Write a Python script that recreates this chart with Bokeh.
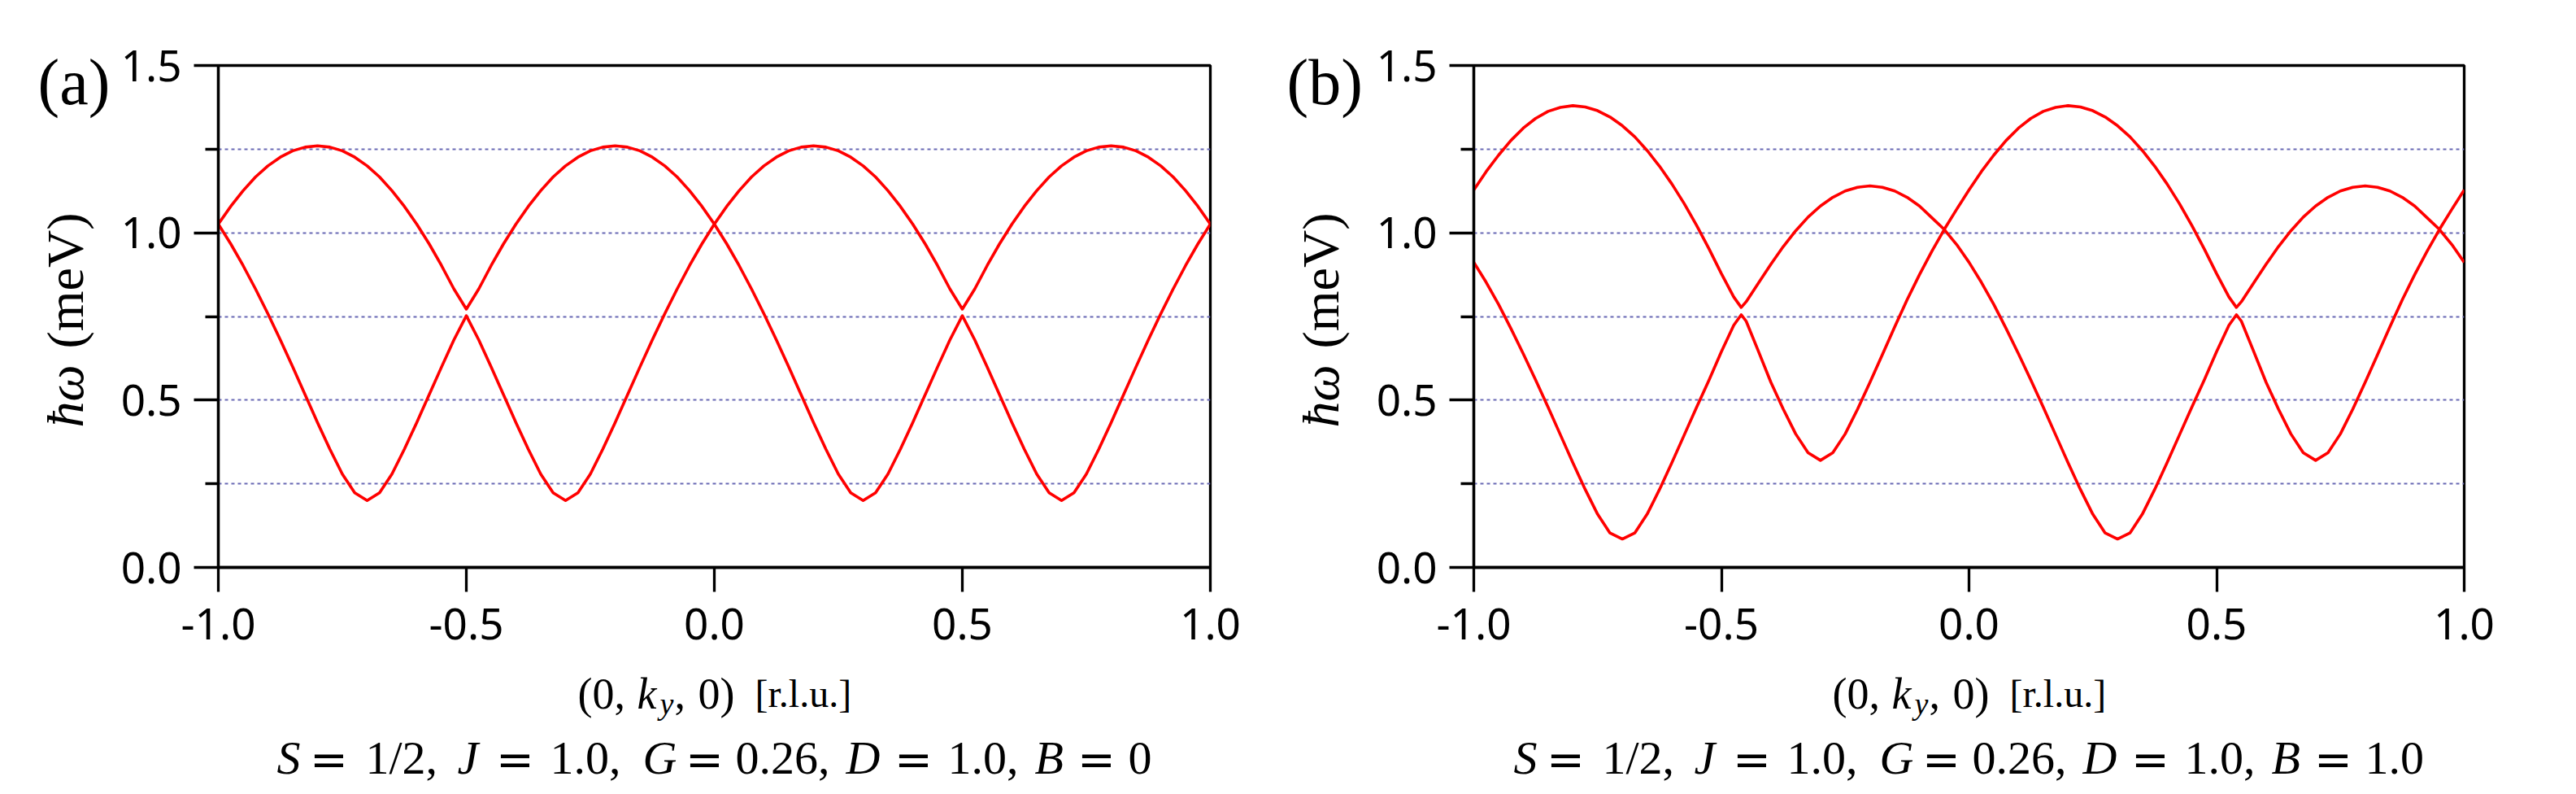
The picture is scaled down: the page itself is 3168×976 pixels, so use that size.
import math
from bokeh.plotting import figure
from bokeh.models import Range1d, FixedTicker, PrintfTickFormatter, Label
from bokeh.layouts import row, column
from bokeh.embed import file_html
from bokeh.resources import INLINE

# ---------------- data ----------------
ka = [-1.000,-0.975,-0.950,-0.925,-0.900,-0.875,-0.850,-0.825,-0.800,-0.775,-0.750,-0.725,-0.700,-0.675,-0.650,-0.625,-0.600,-0.575,-0.550,-0.525,
      -0.500,-0.475,-0.450,-0.425,-0.400,-0.375,-0.350,-0.325,-0.300,-0.275,-0.250,-0.225,-0.200,-0.175,-0.150,-0.125,-0.100,-0.075,-0.050,-0.025,
      0.000,0.025,0.050,0.075,0.100,0.125,0.150,0.175,0.200,0.225,0.250,0.275,0.300,0.325,0.350,0.375,0.400,0.425,0.450,0.475,
      0.500,0.525,0.550,0.575,0.600,0.625,0.650,0.675,0.700,0.725,0.750,0.775,0.800,0.825,0.850,0.875,0.900,0.925,0.950,0.975,1.000]
upper_a = [1.026,1.079,1.126,1.167,1.200,1.226,1.245,1.256,1.260,1.256,1.245,1.226,1.200,1.167,1.126,1.079,1.026,0.967,0.902,0.832,
           0.772,0.832,0.902,0.967,1.026,1.079,1.126,1.167,1.200,1.226,1.245,1.256,1.260,1.256,1.245,1.226,1.200,1.167,1.126,1.079,
           1.026,1.079,1.126,1.167,1.200,1.226,1.245,1.256,1.260,1.256,1.245,1.226,1.200,1.167,1.126,1.079,1.026,0.967,0.902,0.832,
           0.772,0.832,0.902,0.967,1.026,1.079,1.126,1.167,1.200,1.226,1.245,1.256,1.260,1.256,1.245,1.226,1.200,1.167,1.126,1.079,1.026]
lower_a = [1.026,0.967,0.902,0.832,0.758,0.680,0.599,0.516,0.433,0.353,0.279,0.223,0.200,0.223,0.279,0.353,0.433,0.516,0.599,0.680,
           0.752,0.680,0.599,0.516,0.433,0.353,0.279,0.223,0.200,0.223,0.279,0.353,0.433,0.516,0.599,0.680,0.758,0.832,0.902,0.967,
           1.026,0.967,0.902,0.832,0.758,0.680,0.599,0.516,0.433,0.353,0.279,0.223,0.200,0.223,0.279,0.353,0.433,0.516,0.599,0.680,
           0.752,0.680,0.599,0.516,0.433,0.353,0.279,0.223,0.200,0.223,0.279,0.353,0.433,0.516,0.599,0.680,0.758,0.832,0.902,0.967,1.026]

kb = [-1.000,-0.975,-0.950,-0.925,-0.900,-0.875,-0.850,-0.825,-0.800,-0.775,-0.750,-0.725,-0.700,-0.675,-0.650,-0.625,-0.600,-0.575,-0.550,-0.525,
      -0.500,-0.475,-0.460,-0.450,-0.425,-0.400,-0.375,-0.350,-0.325,-0.300,-0.275,-0.250,-0.225,-0.200,-0.175,-0.150,-0.125,-0.100,-0.075,-0.050,-0.025,
      0.000,0.025,0.050,0.075,0.100,0.125,0.150,0.175,0.200,0.225,0.250,0.275,0.300,0.325,0.350,0.375,0.400,0.425,0.450,0.475,
      0.500,0.525,0.540,0.550,0.575,0.600,0.625,0.650,0.675,0.700,0.725,0.750,0.775,0.800,0.825,0.850,0.875,0.900,0.925,0.950,0.975,1.000]
upper_b = [1.128,1.183,1.232,1.276,1.313,1.342,1.363,1.375,1.380,1.376,1.365,1.346,1.320,1.287,1.246,1.199,1.146,1.087,1.022,0.952,
           0.878,0.808,0.777,0.794,0.850,0.906,0.959,1.006,1.047,1.080,1.106,1.125,1.136,1.140,1.136,1.125,1.106,1.080,1.045,1.010,1.070,
           1.128,1.183,1.232,1.276,1.313,1.342,1.363,1.375,1.380,1.376,1.365,1.346,1.320,1.287,1.246,1.199,1.146,1.087,1.022,0.952,
           0.878,0.808,0.777,0.794,0.850,0.906,0.959,1.006,1.047,1.080,1.106,1.125,1.136,1.140,1.136,1.125,1.106,1.080,1.045,1.010,1.070,1.128]
lower_b = [0.912,0.852,0.786,0.714,0.638,0.560,0.479,0.396,0.313,0.233,0.159,0.103,0.085,0.103,0.159,0.233,0.313,0.396,0.479,0.560,
           0.645,0.724,0.755,0.736,0.645,0.553,0.473,0.399,0.343,0.320,0.343,0.399,0.473,0.553,0.636,0.719,0.800,0.875,0.945,1.010,0.965,
           0.912,0.852,0.786,0.714,0.638,0.560,0.479,0.396,0.313,0.233,0.159,0.103,0.085,0.103,0.159,0.233,0.313,0.396,0.479,0.560,
           0.645,0.724,0.755,0.736,0.645,0.553,0.473,0.399,0.343,0.320,0.343,0.399,0.473,0.553,0.636,0.719,0.800,0.875,0.945,1.010,0.965,0.912]

x_ticks = [-1.0, -0.5, 0.0, 0.5, 1.0]
y_major = [0.0, 0.5, 1.0, 1.5]
y_minor = [0.25, 0.75, 1.25]
y_grid = [0.25, 0.5, 0.75, 1.0, 1.25]
panel_tags = ["(a)", "(b)"]
param_names = ["S", "J", "G", "D", "B"]
param_values_a = ["1/2,", "1.0,", "0.26,", "1.0,", "0"]
param_values_b = ["1/2,", "1.0,", "0.26,", "1.0,", "1.0"]
y_sym = "ħω"
y_unit = "(meV)"

# ---------------- layout constants (page pixels, origin top-left) ----------------
FT, FH = 80, 617          # frame top, frame height
SERIF = "Liberation Serif"
SANS = "Noto Sans"
RED = "#ff0000"
FIG_H = 968


def make_panel(k, up, lo, fw, bl, br):
    p = figure(frame_width=fw, frame_height=FH, x_range=Range1d(-1, 1), y_range=Range1d(0, 1.5),
               output_backend="svg", toolbar_location=None,
               min_border_left=bl, min_border_right=br, min_border_top=FT,
               min_border_bottom=FIG_H - FT - FH,
               background_fill_color="white", border_fill_color="white")
    p.outline_line_color = "black"
    p.outline_line_width = 3.3
    p.xgrid.visible = False
    p.ygrid.ticker = FixedTicker(ticks=y_grid)
    p.ygrid.grid_line_color = "#6868b4"
    p.ygrid.grid_line_dash = "4 4"
    p.ygrid.grid_line_width = 1.8

    xa = p.xaxis[0]
    xa.ticker = FixedTicker(ticks=x_ticks)
    xa.formatter = PrintfTickFormatter(format="%.1f")
    ya = p.yaxis[0]
    ya.ticker = FixedTicker(ticks=y_major, minor_ticks=y_minor)
    ya.formatter = PrintfTickFormatter(format="%.1f")
    for ax in (xa, ya):
        ax.axis_line_width = 3.3
        ax.axis_line_color = "black"
        ax.major_tick_out = 30
        ax.major_tick_in = 0
        ax.major_tick_line_width = 3.3
        ax.minor_tick_in = 0
        ax.minor_tick_line_width = 3.3
        ax.major_label_text_font = SANS
        ax.major_label_text_font_size = "53px"
        ax.major_label_text_color = "black"
    xa.minor_tick_out = 0
    ya.minor_tick_out = 16
    xa.major_label_standoff = 20
    ya.major_label_standoff = 15

    p.line(k, up, line_color=RED, line_width=3.6, line_join="round")
    p.line(k, lo, line_color=RED, line_width=3.6, line_join="round")
    return p


p1 = make_panel(ka, upper_a, lower_a, fw=1220, bl=268, br=50)
p2 = make_panel(kb, upper_b, lower_b, fw=1218, bl=274, br=130)
TOTAL_W = (268 + 1220 + 50) + (274 + 1218 + 130)

# transparent overlay figure carrying all free texts; its data units are page pixels
t = figure(width=TOTAL_W, height=FIG_H, x_range=Range1d(0, TOTAL_W), y_range=Range1d(FIG_H, 0),
           output_backend="svg", toolbar_location=None, x_axis_type=None, y_axis_type=None,
           min_border_left=0, min_border_right=0, min_border_top=0, min_border_bottom=0,
           background_fill_alpha=0, border_fill_alpha=0, margin=(-FIG_H, 0, 0, 0))
t.outline_line_color = None
t.grid.visible = False


def lab(px, py, text, size, style="normal", angle=0.0, align="left", font=SERIF):
    t.add_layout(Label(x=px, y=py, text=text, text_font=font, text_font_size=size,
                       text_font_style=style, text_align=align, text_baseline="alphabetic",
                       text_color="black", angle=angle))


panels = [(268, 1220, panel_tags[0], -222, param_values_a, 340),
          (1812, 1218, panel_tags[1], -230, param_values_b, 1861)]
var_rel = [0, 222, 450, 700, 932]
eq_rel = [64, 293, 526, 783, 1008]
num_rel = [109, 336, 564, 825, 1047]
for fl, fw, tag, tag_dx, vals, ann_start in panels:
    lab(fl + tag_dx, 100, tag, "80px")
    lab(fl - 188, 525, y_sym, "64px", "italic", angle=math.pi / 2)
    lab(fl - 188, 428, y_unit, "64px", angle=math.pi / 2)
    xs = fl + fw / 2 - 168
    lab(xs, 852, "(0,", "54px")
    lab(xs + 73, 852, "k", "54px", "italic")
    lab(xs + 101, 864, "y", "38px", "italic")
    lab(xs + 119, 852, ",", "54px")
    lab(xs + 148, 852, "0)", "54px")
    lab(xs + 218, 852, "[r.l.u.]", "48px")
    for i, name in enumerate(param_names):
        lab(ann_start + var_rel[i], 931, name, "58px", "italic")
        lab(ann_start + eq_rel[i], 933, "=", "56px", align="center", font="DejaVu Serif")
        lab(ann_start + num_rel[i], 931, vals[i], "58px")

layout = column(row(p1, p2), t)
open("out.html", "w").write(file_html(layout, INLINE))
